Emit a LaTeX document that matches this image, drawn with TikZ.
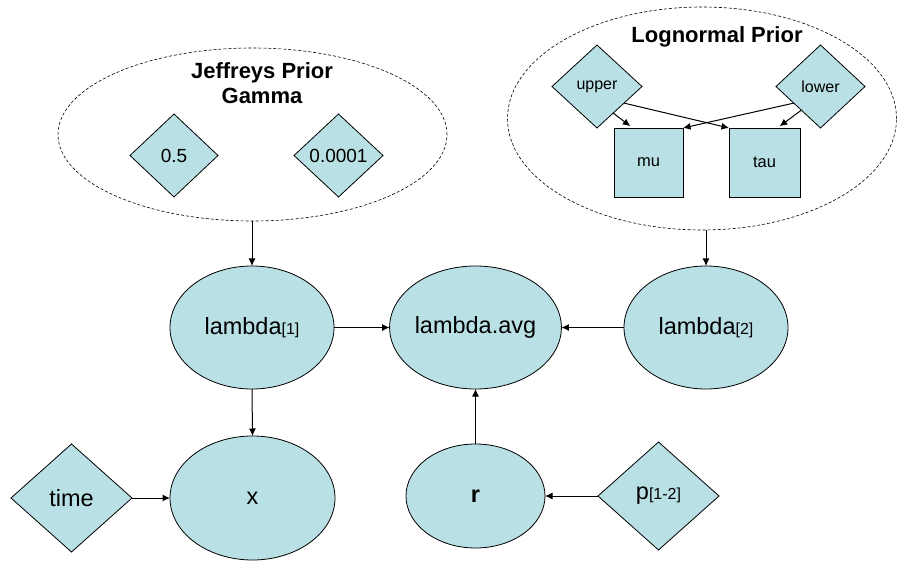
\documentclass[tikz,border=0pt]{standalone}
\usepackage{fontspec}
\setmainfont{Liberation Sans}
\usetikzlibrary{shapes.geometric,arrows.meta,calc}
\definecolor{nodefill}{RGB}{185,224,228}
\newcommand{\smallidx}[1]{{\fontsize{16}{16}\selectfont #1}}
\begin{document}
\begin{tikzpicture}[x=1pt,y=-1pt,
  every node/.style={inner sep=0pt,outer sep=0pt},
  stoch/.style={ellipse,draw=black,fill=nodefill,line width=0.8pt,font=\fontsize{23.5}{28}\selectfont},
  constnode/.style={diamond,draw=black,fill=nodefill,line width=0.8pt},
  logicbox/.style={rectangle,draw=black,fill=nodefill,line width=0.8pt,minimum height=69pt,font=\fontsize{16.5}{20}\selectfont},
  groupnode/.style={ellipse,draw=black,line width=0.6pt,dash pattern=on 3pt off 2pt},
  titletext/.style={anchor=base,font=\fontsize{22}{26}\selectfont\bfseries},
  link/.style={-{Latex[length=7.5pt,width=7pt]},line width=1pt},
  bigtext/.style={font=\fontsize{23.5}{28}\selectfont},
  midtext/.style={font=\fontsize{19}{23}\selectfont},
  smalltext/.style={font=\fontsize{16}{20}\selectfont}]
\useasboundingbox (0,0) rectangle (897,561);

% group ellipses
\node[groupnode,minimum width=389pt,minimum height=173pt] (jeff) at (252.5,134.5) {};
\node[groupnode,minimum width=389pt,minimum height=223pt] (logn) at (702,118.5) {};

% titles
\node[titletext] (jt1) at (262,78.5) {Jeffreys Prior};
\node[titletext] (jt2) at (262,104) {Gamma};
\node[titletext] (lt) at (717,43) {Lognormal Prior};

% Jeffreys constants
\node[constnode,midtext,minimum width=88pt,minimum height=83pt] (c05) at (174,155.5) {0.5};
\node[constnode,midtext,minimum width=89pt,minimum height=83pt] (c0001) at (338.5,155.5) {0.0001};

% Lognormal
\node[constnode,smalltext,minimum width=90pt,minimum height=83pt] (upper) at (597,86.5) {upper};
\node[constnode,smalltext,minimum width=89pt,minimum height=83pt] (lower) at (820.5,86.5) {lower};
\node[logicbox,minimum width=69pt] (mu) at (648.5,162.5) {mu};
\node[logicbox,minimum width=71pt] (tau) at (764.5,162.5) {tau};

% middle row
\node[stoch,minimum width=164pt,minimum height=123pt] (l1) at (252,327.5) {lambda\smallidx{[1]}};
\node[stoch,minimum width=165pt,minimum height=123pt] (lavg) at (475.5,327.5) {lambda.avg};
\node[stoch,minimum width=164pt,minimum height=123pt] (l2) at (706,327.5) {lambda\smallidx{[2]}};

% bottom row
\node[constnode,bigtext,minimum width=121pt,minimum height=108pt] (time) at (71.5,498) {time};
\node[stoch,minimum width=165pt,minimum height=124pt] (x) at (252.5,498) {x};
\node[stoch,minimum width=139pt,minimum height=104pt,font=\fontsize{23.5}{28}\selectfont\bfseries] (r) at (475.5,496) {r};
\node[constnode,bigtext,minimum width=121pt,minimum height=108pt] (p) at (658.5,496) {p\smallidx{[1-2]}};

% arrows inside lognormal group
\draw[link,shorten >=3pt] ($(upper.east)!0.64!(upper.south)$) -- ($(mu.north west)!0.27!(mu.north east)$);
\draw[link] ($(upper.east)!0.4!(upper.south)$) -- (tau.north west);
\draw[link] ($(lower.west)!0.4!(lower.south)$) -- (mu.north east);
\draw[link,shorten >=3pt] ($(lower.west)!0.57!(lower.south)$) -- ($(tau.north west)!0.68!(tau.north east)$);

% main arrows
\draw[link] (l1.north |- jeff.south) -- (l1.north);
\draw[link] (l2.north |- logn.south) -- (l2.north);
\draw[link] (l1.east) -- (lavg.west);
\draw[link] (l2.west) -- (lavg.east);
\draw[link] (l1.south) -- (x.north);
\draw[link] (time.east) -- (x.west);
\draw[link] (r.north) -- (lavg.south);
\draw[link] (p.west) -- (r.east);
\end{tikzpicture}
\end{document}
